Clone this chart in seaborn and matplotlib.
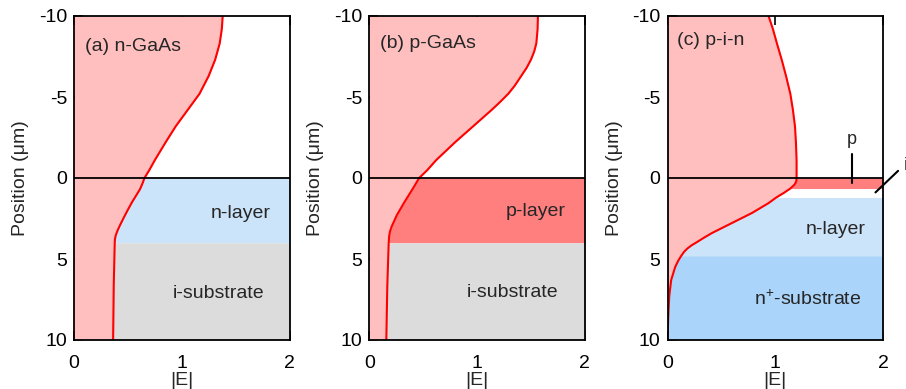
import numpy as np
import pandas as pd
import matplotlib
matplotlib.use("Agg")
import matplotlib.pyplot as plt
import seaborn as sns

# ---------------- data ----------------
# (a) n-GaAs : position (um) and |E|
pos_a = [-10, -9.2, -8.3, -7.3, -6.3, -5.2, -4.2, -3.2, -2.2, -1.1, -0.5, 0, 0.35, 0.7, 1.1, 1.5, 2.0, 2.5,
         2.9, 3.2, 3.4, 3.6, 3.8, 4.0, 6.6, 10]
E_a = [1.38, 1.372, 1.352, 1.31, 1.25, 1.165, 1.055, 0.945, 0.85, 0.75, 0.70, 0.654, 0.635, 0.612, 0.575, 0.538,
       0.497, 0.458, 0.428, 0.407, 0.395, 0.385, 0.38, 0.378, 0.369, 0.363]

# (b) p-GaAs
pos_b = [-10, -9.2, -8.3, -7.8, -7.3, -6.8, -6.3, -5.7, -5.2, -4.7, -4.2, -3.2, -2.2, -1.1, -0.5, 0, 0.7, 1.5,
         2.3, 2.7, 3.0, 3.3, 3.6, 4.0, 6.7, 10]
E_b = [1.565, 1.562, 1.55, 1.53, 1.50, 1.46, 1.41, 1.35, 1.29, 1.215, 1.135, 0.965, 0.795, 0.62, 0.54, 0.463,
       0.40, 0.325, 0.255, 0.228, 0.207, 0.192, 0.184, 0.18, 0.167, 0.158]

# (c) p-i-n
pos_c = [-10, -9.2, -8.3, -7.3, -6.3, -5.2, -4.2, -3.2, -2.2, -1.1, 0, 0.2, 0.4, 0.65, 0.93, 1.2, 1.55, 2.16,
         2.78, 3.4, 3.7, 3.95, 4.15, 4.35, 4.55, 4.8, 5.1, 5.5, 6.3, 7.3, 8.5, 10]
E_c = [0.938, 0.978, 1.016, 1.06, 1.10, 1.14, 1.164, 1.183, 1.192, 1.198, 1.198, 1.195, 1.18, 1.14, 1.077, 1.01,
       0.938, 0.784, 0.598, 0.412, 0.335, 0.275, 0.225, 0.185, 0.155, 0.128, 0.10, 0.071, 0.034, 0.016, 0.007, 0.0]

# layer boundaries (um) and colours
layers_a = [(0, 4.0, "#CCE4FA"), (4.0, 10, "#DCDCDC")]
layers_b = [(0, 4.0, "#FF7F7F"), (4.0, 10, "#DCDCDC")]
layers_c = [(0, 0.65, "#FF7F7F"), (1.2, 4.8, "#CCE4FA"), (4.8, 10, "#AAD4FA")]

panel_titles = ["(a) n-GaAs", "(b) p-GaAs", "(c) p-i-n"]
title_pos = [(0.1, -8.1), (0.1, -8.3), (0.09, -8.5)]
layer_labels = [
    [("n-layer", 1.55, 2.18), ("i-substrate", 1.34, 7.12)],
    [("p-layer", 1.54, 2.08), ("i-substrate", 1.33, 7.06)],
    [("n-layer", 1.56, 3.17), ("n$^{+}$-substrate", 1.30, 7.47)],
]
x_ticks = [0, 1, 2]
y_ticks = [-10, -5, 0, 5, 10]

# p / i markers in panel (c)
p_mark_x = [1.71, 1.71]
p_mark_y = [-1.5, 0.33]
i_mark_x = [1.93, 2.14]
i_mark_y = [0.89, -0.44]

# ---------------- style ----------------
sns.set_theme(style="white")
plt.rcParams['font.family'] = ['Liberation Sans', 'DejaVu Sans']
plt.rcParams['mathtext.fontset'] = 'custom'
plt.rcParams['mathtext.rm'] = 'Liberation Sans'
FS = 14

PINK = "#FFBFBF"
RED = "#FF0000"

fig = plt.figure(figsize=(9.06, 3.89), dpi=100)
lefts = [74 / 906, 369.3 / 906, 667.5 / 906]
w = 215.5 / 906
bottom = (389 - 340) / 389
h = 324 / 389

datasets = [(pos_a, E_a, layers_a), (pos_b, E_b, layers_b), (pos_c, E_c, layers_c)]

for k, (pos, E, layers) in enumerate(datasets):
    ax = fig.add_axes([lefts[k], bottom, w, h])
    df = pd.DataFrame({"pos": pos, "E": E})
    y = np.array(pos, dtype=float)
    e = np.array(E, dtype=float)
    # pink area under curve
    ax.fill_betweenx(y, 0, e, color=PINK, linewidth=0, zorder=1)
    # layers
    for (y0, y1, col) in layers:
        m = (y >= y0 - 1e-9) & (y <= y1 + 1e-9)
        ax.fill_betweenx(y[m], e[m], 2, color=col, linewidth=0, zorder=1)
    sns.lineplot(data=df, x="E", y="pos", orient="y", sort=False, color=RED, linewidth=1.5, ax=ax, zorder=3)
    ax.axhline(0, color="black", linewidth=1.3, zorder=4)

    ax.set_xlim(0, 2)
    ax.set_ylim(10, -10)
    ax.set_xticks(x_ticks)
    ax.set_yticks(y_ticks)
    ax.set_xticklabels([str(t) for t in x_ticks], fontsize=FS)
    ax.set_yticklabels([str(t) for t in y_ticks], fontsize=FS)
    ax.tick_params(direction="in", length=6.5, width=1.2, top=True, bottom=True, left=True, right=False,
                   colors="black")
    ax.tick_params(axis="x", pad=11)
    ax.tick_params(axis="y", pad=5)
    ax.set_xlabel("|E|", fontsize=FS, labelpad=0)
    ax.set_ylabel("Position (μm)", fontsize=FS, labelpad=7)
    for s in ax.spines.values():
        s.set_color("black")
        s.set_linewidth(1.3)
        s.set_zorder(5)

    tx, ty = title_pos[k]
    ax.text(tx, ty, panel_titles[k], fontsize=FS, ha="left", va="center", zorder=6)
    for (lab, lx, ly) in layer_labels[k]:
        ax.text(lx, ly, lab, fontsize=FS, ha="center", va="center", zorder=6)

    if k == 2:
        ax.plot(p_mark_x, p_mark_y, color="black", linewidth=1.5, zorder=6)
        ax.text(p_mark_x[0], -2.35, "p", fontsize=FS - 1, ha="center", va="center")
        ax.plot(i_mark_x, i_mark_y, color="black", linewidth=1.5, zorder=6, clip_on=False)
        ax.text(2.19, -0.75, "i", fontsize=FS - 1, ha="left", va="center", clip_on=False)

fig.savefig("out.png", dpi=100)
